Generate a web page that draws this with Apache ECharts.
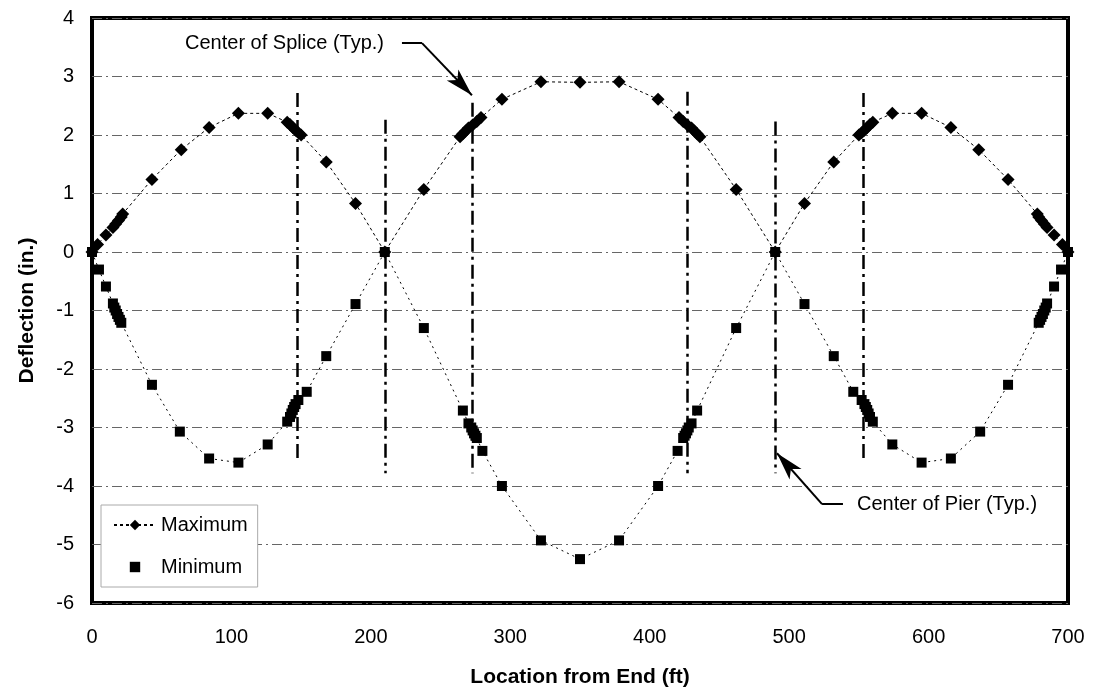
<!DOCTYPE html>
<html>
<head>
<meta charset="utf-8">
<script src="https://cdn.jsdelivr.net/npm/echarts@6/dist/echarts.min.js"></script>
<style>
html,body{margin:0;padding:0;background:#fff;}
#chart{width:1103px;height:696px;}
</style>
</head>
<body>
<div id="chart"></div>
<script>
// ---- Data ----
const maxX = [0,4,10,15,17,19,21,22,43,64,84,105,126,140,142,144,146,148,150,168,189,210,
  238,264,266,268,270,273,276,279,294,322,350,378,406,421,424,427,430,432,434,436,462,490,
  511,532,550,552,554,556,558,560,574,595,616,636,657,678,679,681,683,685,690,696,700];
const maxY = [0,0.13,0.29,0.42,0.48,0.54,0.6,0.65,1.24,1.75,2.13,2.37,2.37,2.22,2.18,2.13,2.08,2.04,2.0,1.54,0.83,0,
  1.07,1.97,2.02,2.07,2.12,2.17,2.23,2.30,2.61,2.91,2.90,2.91,2.61,2.30,2.23,2.17,2.12,2.07,2.02,1.97,1.07,0,
  0.83,1.54,2.0,2.04,2.08,2.13,2.18,2.22,2.37,2.37,2.13,1.75,1.24,0.65,0.6,0.54,0.48,0.42,0.29,0.13,0];

const minX = [0,5,10,15,16,17,18,19,20,21,43,63,84,105,126,140,142,143,144,145,146,148,154,168,189,210,
  238,266,270,272,273,274,275,276,280,294,322,350,378,406,420,424,425,426,427,428,430,434,462,490,
  511,532,546,552,554,555,556,557,558,560,574,595,616,637,657,679,680,681,682,683,684,685,690,695,700];
const minY = [0,-0.3,-0.59,-0.88,-0.95,-1.0,-1.06,-1.11,-1.16,-1.21,-2.27,-3.07,-3.53,-3.6,-3.29,-2.9,-2.82,-2.76,-2.7,-2.65,-2.6,-2.53,-2.39,-1.78,-0.89,0,
  -1.3,-2.71,-2.93,-3.0,-3.05,-3.1,-3.14,-3.18,-3.4,-4.0,-4.93,-5.25,-4.93,-4.0,-3.4,-3.18,-3.14,-3.1,-3.05,-3.0,-2.93,-2.71,-1.3,0,
  -0.89,-1.78,-2.39,-2.53,-2.6,-2.65,-2.7,-2.76,-2.82,-2.9,-3.29,-3.6,-3.53,-3.07,-2.27,-1.21,-1.16,-1.11,-1.06,-1.0,-0.95,-0.88,-0.59,-0.3,0];

// splice / pier reference lines
const refX      = [147, 210, 273, 427, 490, 553];
const refTop    = [2.72, 2.26, 2.55, 2.74, 2.23, 2.72];
const refBottom = [-3.55, -3.78, -3.78, -3.78, -3.78, -3.52];

// annotation leader lines (data coordinates)
const spliceLeader = [[222.3, 3.57], [236.7, 3.57], [272.5, 2.68]];
const pierLeader   = [[538.6, -4.31], [523.6, -4.31], [491.3, -3.44]];

const xTicks = [0, 100, 200, 300, 400, 500, 600, 700];
const yTicks = [-6, -5, -4, -3, -2, -1, 0, 1, 2, 3, 4];

const seriesNames = ['Maximum', 'Minimum'];

// ---- Build ----
const FONT = "'Liberation Sans', Arial, Helvetica, sans-serif";
const pairs = (xs, ys) => xs.map((x, i) => [x, ys[i]]);

const refLines = refX.map((x, i) => [{coord: [x, refTop[i]]}, {coord: [x, refBottom[i]]}]);
const leaderLines = [
  [{coord: spliceLeader[0], symbol: 'none'}, {coord: spliceLeader[1], symbol: 'none'}],
  [{coord: spliceLeader[1], symbol: 'none'}, {coord: spliceLeader[2]}],
  [{coord: pierLeader[0], symbol: 'none'}, {coord: pierLeader[1], symbol: 'none'}],
  [{coord: pierLeader[1], symbol: 'none'}, {coord: pierLeader[2]}]
];

const chart = echarts.init(document.getElementById('chart'), null, {renderer: 'canvas'});
chart.setOption({
  animation: false,
  backgroundColor: '#fff',
  textStyle: {fontFamily: FONT, color: '#000'},
  grid: {left: 92, right: 35, top: 18, bottom: 93, show: true, borderColor: '#000', borderWidth: 4, backgroundColor: 'transparent'},
  xAxis: {
    type: 'value', min: xTicks[0], max: xTicks[xTicks.length - 1], interval: 100,
    name: 'Location from End (ft)', nameLocation: 'middle', nameGap: 64,
    nameTextStyle: {fontFamily: FONT, fontSize: 21, fontWeight: 'bold', color: '#000'},
    axisLine: {show: false}, axisTick: {show: false}, splitLine: {show: false},
    axisLabel: {fontFamily: FONT, fontSize: 20, color: '#000', margin: 24}
  },
  yAxis: {
    type: 'value', min: yTicks[0], max: yTicks[yTicks.length - 1], interval: 1,
    name: 'Deflection (in.)', nameLocation: 'middle', nameGap: 54,
    nameTextStyle: {fontFamily: FONT, fontSize: 21, fontWeight: 'bold', color: '#000'},
    axisLine: {show: false}, axisTick: {show: false},
    splitLine: {show: true, lineStyle: {color: '#666', width: 1, type: [10, 4, 2, 4]}},
    axisLabel: {fontFamily: FONT, fontSize: 20, color: '#000', margin: 18}
  },
  legend: {
    orient: 'vertical', left: 101, top: 505,
    data: [{name: seriesNames[0]}, {name: seriesNames[1], lineStyle: {opacity: 0, width: 0}}],
    itemWidth: 42, itemHeight: 13, itemGap: 22,
    padding: [10, 10, 10, 12],
    backgroundColor: '#fff', borderColor: '#aaa', borderWidth: 1,
    textStyle: {fontFamily: FONT, fontSize: 20, color: '#000'}
  },
  series: [
    {
      name: seriesNames[0], type: 'line', data: pairs(maxX, maxY),
      symbol: 'diamond', symbolSize: 13, showAllSymbol: true, z: 5,
      itemStyle: {color: '#000'},
      lineStyle: {color: '#000', width: 1, type: [3, 3]},
      markLine: {
        silent: true, symbol: ['none', 'none'], label: {show: false}, z: 3,
        lineStyle: {color: '#000', width: 2.5, type: [14, 5, 3, 5]},
        data: refLines
      }
    },
    {
      name: seriesNames[1], type: 'line', data: pairs(minX, minY),
      symbol: 'rect', symbolSize: 10, showAllSymbol: true, z: 5,
      itemStyle: {color: '#000'},
      lineStyle: {color: '#000', width: 1, type: [2, 4]},
      markLine: {
        silent: true, symbol: ['none', 'arrow'], symbolSize: [12, 28], label: {show: false}, z: 6,
        lineStyle: {color: '#000', width: 2, type: 'solid'},
        data: leaderLines
      }
    }
  ],
  graphic: [
    {type: 'text', right: 1103 - 384, top: 33, style: {text: 'Center of Splice (Typ.)', font: '20px ' + FONT, fill: '#000'}},
    {type: 'text', left: 857, top: 494, style: {text: 'Center of Pier (Typ.)', font: '20px ' + FONT, fill: '#000'}}
  ]
});
</script>
</body>
</html>
